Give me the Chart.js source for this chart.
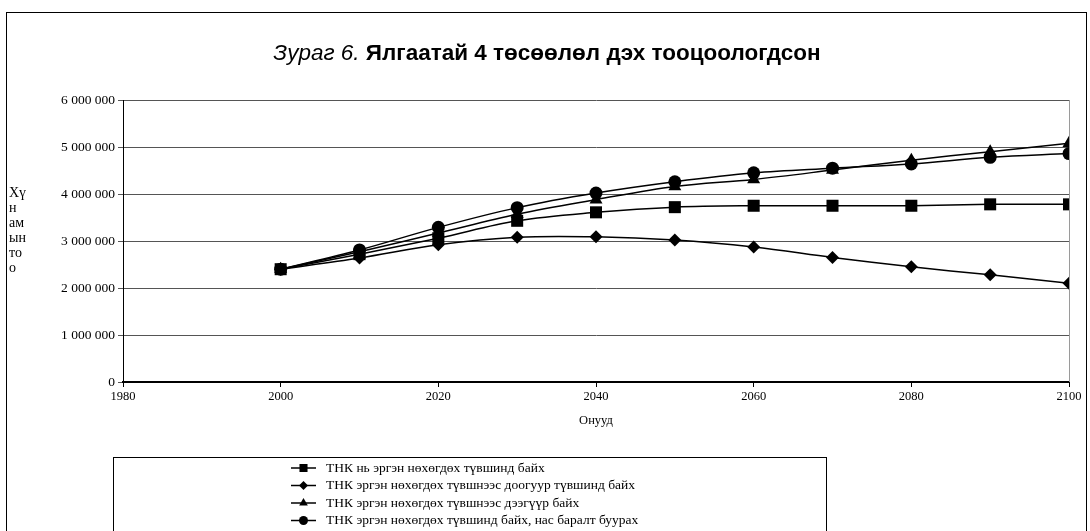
<!DOCTYPE html>
<html>
<head>
<meta charset="utf-8">
<script src="https://cdn.jsdelivr.net/npm/chart.js@4.4.0/dist/chart.umd.min.js"></script>
<style>
    html, body { margin: 0; padding: 0; background: #fff; }
    #wrap { width: 1090px; height: 531px; }
</style>
</head>
<body>
<div id="wrap"><canvas id="chartCanvas" width="1090" height="531"></canvas></div>
<script>
// Data
const years = [2000, 2010, 2020, 2030, 2040, 2050, 2060, 2070, 2080, 2090, 2100];
const atReplacement = [2400000, 2720000, 3060000, 3430000, 3610000, 3720000, 3750000, 3750000, 3750000, 3780000, 3780000];
const belowReplacement = [2400000, 2640000, 2920000, 3080000, 3090000, 3020000, 2870000, 2650000, 2450000, 2280000, 2100000];
const aboveReplacement = [2400000, 2770000, 3170000, 3570000, 3880000, 4160000, 4310000, 4510000, 4720000, 4900000, 5080000];
const lowMortality = [2400000, 2810000, 3290000, 3710000, 4020000, 4260000, 4450000, 4550000, 4640000, 4780000, 4860000];

const seriesLabels = [
    'ТНК нь эргэн нөхөгдөх түвшинд байх',
    'ТНК эргэн нөхөгдөх түвшнээс доогуур түвшинд байх',
    'ТНК эргэн нөхөгдөх түвшнээс дээгүүр байх',
    'ТНК эргэн нөхөгдөх түвшинд байх, нас баралт буурах'
];
const titleItalic = 'Зураг 6. ';
const titleBold = 'Ялгаатай 4 төсөөлөл дэх тооцоологдсон';
const xAxisTitle = 'Онууд';
const yAxisTitleLines = ['Хү', 'н', 'ам', 'ын', 'то', 'о'];

const SERIF = '"Liberation Serif", "DejaVu Serif", serif';
const SANS = '"Liberation Sans", Arial, sans-serif';

function toPoints(values) {
    return values.map((v, i) => ({ x: years[i], y: v }));
}

function spaced(v) {
    return String(v).replace(/\B(?=(\d{3})+(?!\d))/g, ' ');
}

// marker style, size in plot, size in legend
const markers = [
    { style: 'rect', radius: 8.5, legend: 5.7 },
    { style: 'rectRot', radius: 6.5, legend: 4.5 },
    { style: 'triangle', radius: 7.5, legend: 5 },
    { style: 'circle', radius: 6.5, legend: 4.5 }
];
const allSeries = [atReplacement, belowReplacement, aboveReplacement, lowMortality];

const datasets = allSeries.map((vals, i) => ({
    label: seriesLabels[i],
    data: toPoints(vals),
    borderColor: '#000',
    backgroundColor: '#000',
    borderWidth: 1.5,
    tension: 0.35,
    pointStyle: markers[i].style,
    pointRadius: markers[i].radius,
    pointBackgroundColor: '#000',
    pointBorderColor: '#000',
    pointBorderWidth: 0,
    order: 3 - i
}));

// Frame, title, stacked y title and boxed legend
const decorPlugin = {
    id: 'decor',
    beforeDatasetsDraw(chart) {
        const { ctx, chartArea } = chart;
        ctx.save();
        ctx.strokeStyle = '#9a9a9a';
        ctx.lineWidth = 1;
        ctx.beginPath();
        ctx.moveTo(Math.round(chartArea.right) + 0.5, chartArea.top);
        ctx.lineTo(Math.round(chartArea.right) + 0.5, chartArea.bottom);
        ctx.stroke();
        ctx.restore();
    },
    afterDraw(chart) {
        const ctx = chart.ctx;
        ctx.save();
        // outer frame
        ctx.strokeStyle = '#000';
        ctx.lineWidth = 1;
        ctx.strokeRect(6.5, 12.5, 1080, 600);

        // title with mixed styles
        ctx.fillStyle = '#000';
        ctx.textBaseline = 'alphabetic';
        ctx.font = 'italic 22.5px ' + SANS;
        const w1 = ctx.measureText(titleItalic).width;
        ctx.font = 'bold 22.5px ' + SANS;
        const w2 = ctx.measureText(titleBold).width;
        const startX = 547 - (w1 + w2) / 2;
        ctx.font = 'italic 22.5px ' + SANS;
        ctx.fillText(titleItalic, startX, 60);
        ctx.font = 'bold 22.5px ' + SANS;
        ctx.fillText(titleBold, startX + w1, 60);

        // y title, wrapped like the original
        ctx.font = '14px ' + SERIF;
        ctx.textBaseline = 'middle';
        ctx.textAlign = 'left';
        yAxisTitleLines.forEach((t, i) => {
            ctx.fillText(t, 9, 193 + i * 15);
        });

        // legend box
        ctx.strokeRect(113.5, 457.5, 713, 200);
        ctx.font = '13.5px ' + SERIF;
        chart.data.datasets.forEach((ds, i) => {
            const y = 468 + i * 17.5;
            ctx.strokeStyle = '#000';
            ctx.lineWidth = 1.5;
            ctx.beginPath();
            ctx.moveTo(291, y);
            ctx.lineTo(316, y);
            ctx.stroke();
            ctx.fillStyle = '#000';
            Chart.helpers.drawPoint(ctx, {
                pointStyle: ds.pointStyle,
                radius: markers[i].legend,
                rotation: 0,
                borderWidth: 0
            }, 303.5, y);
            ctx.fillStyle = '#000';
            ctx.fillText(ds.label, 326, y);
        });
        ctx.restore();
    }
};

const chart = new Chart(document.getElementById('chartCanvas').getContext('2d'), {
    type: 'line',
    data: { datasets: datasets },
    options: {
        responsive: false,
        devicePixelRatio: 1,
        animation: false,
        layout: { padding: { top: 100, right: 21, left: 0, bottom: 0 } },
        plugins: {
            legend: { display: false },
            tooltip: { enabled: false }
        },
        scales: {
            x: {
                type: 'linear',
                min: 1980,
                max: 2100,
                afterFit: scale => { scale.height = 149; },
                ticks: {
                    stepSize: 20,
                    color: '#000',
                    font: { family: SERIF, size: 12.5 },
                    padding: 2,
                    maxRotation: 0,
                    callback: v => String(v)
                },
                grid: { drawOnChartArea: false, drawTicks: true, tickLength: 5, color: '#000' },
                border: { color: '#000', width: 2 },
                title: {
                    display: true,
                    text: xAxisTitle,
                    color: '#000',
                    font: { family: SERIF, size: 12.5 },
                    padding: { top: 4, bottom: 103 }
                }
            },
            y: {
                min: 0,
                max: 6000000,
                afterFit: scale => { scale.width = 123; },
                ticks: {
                    stepSize: 1000000,
                    color: '#000',
                    font: { family: SERIF, size: 13.5 },
                    padding: 3,
                    callback: v => spaced(v)
                },
                grid: { color: '#555', tickLength: 5 },
                border: { color: '#000', width: 1 }
            }
        }
    },
    plugins: [decorPlugin]
});
</script>
</body>
</html>
